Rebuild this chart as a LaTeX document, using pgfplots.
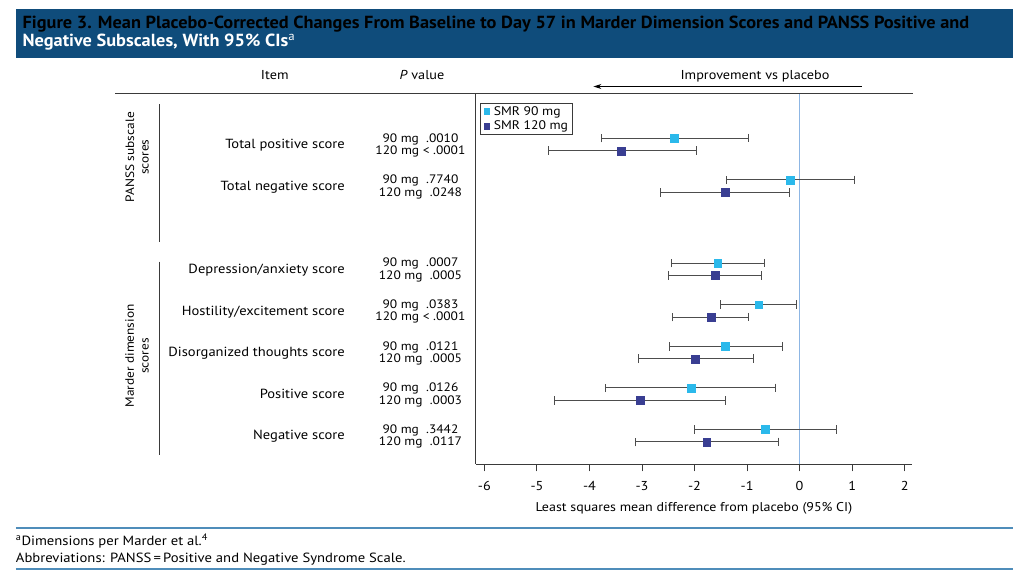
\documentclass[border=0pt]{standalone}
\usepackage{pgfplots}
\usepackage{pgfplotstable}
\pgfplotsset{compat=1.18}
\usetikzlibrary{arrows.meta}
\usepackage{graphicx}
\usepackage{fontspec}
\setmainfont{PT Sans}[FakeStretch=1.1]

\definecolor{titlebg}{HTML}{0F4C7B}
\definecolor{rulec}{HTML}{4F8DBA}
\definecolor{cyanm}{HTML}{2BB9EB}
\definecolor{navym}{HTML}{393E92}
\definecolor{errc}{HTML}{4D4D4D}
\definecolor{zeroc}{HTML}{8DB6E4}
\definecolor{linec}{HTML}{3A3A3A}

\newcommand\fs[1]{\fontsize{#1bp}{#1bp}\selectfont}

% rows: 0 total positive, 1 total negative, 3..7 Marder dimensions
\pgfplotstableread{
x y em ep
-2.38 0 1.40 1.41
-0.18 1 1.22 1.22
-1.56 3 0.88 0.90
-0.78 4 0.73 0.73
-1.41 5 1.06 1.09
-2.07 6 1.62 1.62
-0.65 7 1.36 1.35
}\nine
\pgfplotstableread{
x y em ep
-3.39 0.3 1.39 1.42
-1.41 1.3 1.23 1.22
-1.61 3.3 0.89 0.89
-1.69 4.3 0.73 0.72
-1.98 5.3 1.09 1.10
-3.03 6.3 1.63 1.62
-1.77 7.3 1.36 1.37
}\twelve

\newsavebox\tbox

\begin{document}
\sbox\tbox{\fs{17.6}\bfseries Figure 3. Mean Placebo-Corrected Changes From Baseline to Day 57 in Marder Dimension Scores and PANSS Positive and}
\pgfmathsetmacro\tsx{952*1.00375/\the\wd\tbox}
\begin{tikzpicture}
\begin{scope}[x=1bp,y=-1bp]
\path[use as bounding box, fill=white] (0,0) rectangle (1024,583);
\end{scope}

\begin{axis}[
  at={(472.7bp,-467bp)}, anchor=south west,
  scale only axis, width=439bp, height=373bp,
  xmin=-6.163, xmax=2.146, ymin=-1.075, ymax=7.8375, y dir=reverse,
  axis x line*=bottom, axis y line*=left,
  axis line style={linec, line width=1bp},
  xtick={-6,-5,-4,-3,-2,-1,0,1,2},
  xticklabels={-6,-5,-4,-3,-2,-1,0,1,2},
  ytick=\empty,
  tick align=outside, major tick length=7bp,
  tick style={linec, line width=1bp},
  xticklabel style={font=\fs{13}, text=black, yshift=-6.5bp},
  clip=false,
  legend style={at={(axis description cs:0.009,0.975)}, anchor=north west,
    draw=linec, line width=0.8bp, font=\fs{12.5}, inner xsep=3.5bp, inner ysep=2bp,
    column sep=3bp, row sep=1.5bp, nodes={inner sep=1.2bp}, cells={anchor=west}},
  legend image code/.code={\draw[#1,mark size=3bp] plot coordinates {(3bp,0bp)};},
]
\addplot[zeroc, line width=1bp, forget plot] coordinates {(0,-1.075) (0,7.8375)};

\addplot[only marks, mark=square*, mark size=4bp,
  mark options={fill=cyanm, draw=cyanm, line width=0.3bp},
  error bars/.cd, x dir=both, x explicit,
  error bar style={errc, line width=1bp},
  error mark options={errc, line width=1bp, mark size=4.3bp, rotate=90}]
  table[x=x, y=y, x error minus=em, x error plus=ep] {\nine};
\addlegendentry{SMR 90 mg}

\addplot[only marks, mark=square*, mark size=4bp,
  mark options={fill=navym, draw=navym, line width=0.3bp},
  error bars/.cd, x dir=both, x explicit,
  error bar style={errc, line width=1bp},
  error mark options={errc, line width=1bp, mark size=4.3bp, rotate=90}]
  table[x=x, y=y, x error minus=em, x error plus=ep] {\twelve};
\addlegendentry{SMR 120 mg\hspace{5bp}}
\end{axis}

\begin{scope}[x=1bp,y=-1bp]
% title band
\fill[titlebg] (10,9) rectangle (1013,58.3);
\node[anchor=base west, inner sep=0, text=white] at (16.7,29) {\scalebox{\tsx}[1]{\fs{17.6}\bfseries\vtop{\baselineskip=18.2bp
  \hbox{\usebox\tbox}\hbox{Negative Subscales, With 95\% CIs\textsuperscript{\mdseries a}}}}};

% column headers
\node[anchor=base, inner sep=0, font=\fs{13}] at (270.5,80) {Item};
\node[anchor=base, inner sep=0, font=\fs{13}] at (418.5,80) {\textit{P} value};
\node[anchor=base, inner sep=0, font=\fs{13}] at (753.5,80) {Improvement vs placebo};
\draw[-{Stealth[length=8bp,width=5bp]}, line width=1bp] (861,87) -- (591,87);
\draw[linec, line width=1.2bp] (110,94) -- (912,94);

% group brackets
\draw[linec, line width=1bp] (155,105) -- (155,243);
\draw[linec, line width=1bp] (155,263) -- (155,458);
\node[rotate=90, align=center, font=\fs{12.2}, inner sep=0] at (132,158) {PANSS subscale\\[2.5bp]scores};
\node[rotate=90, align=center, font=\fs{12.2}, inner sep=0] at (132,358) {Marder dimension\\[2.5bp]scores};

% item labels
\foreach \k/\lab in {0/Total positive score, 1/Total negative score, 3/Depression\slash anxiety score,
  4/Hostility\slash excitement score, 5/Disorganized thoughts score, 6/Positive score, 7/Negative score}
  \node[anchor=base east, inner sep=0, font=\fs{13.3}] at (341,139+41.85*\k+10.5) {\lab};

% P values
\foreach \k/\pa/\pb in {0/.0010/< .0001, 1/.7740/\ .0248, 3/.0007/\ .0005, 4/.0383/< .0001,
  5/.0121/\ .0005, 6/.0126/\ .0003, 7/.3442/\ .0117} {
  \node[anchor=base, inner sep=0, font=\fs{12.3}] at (417,139+41.85*\k+3.9) {90 mg\ \ \pa};
  \node[anchor=base, inner sep=0, font=\fs{12.3}] at (417,139+41.85*\k+16.3) {120 mg \pb};
}

% x label
\node[anchor=base, inner sep=0, font=\fs{12.8}] at (692,514) {Least squares mean difference from placebo (95\% CI)};

% footnotes
\draw[rulec, line width=2bp] (10,531) -- (1013,531);
\draw[rulec, line width=2bp] (10,572) -- (1013,572);
\node[anchor=base west, inner sep=0, font=\fs{13.4}] at (10,548.3) {\textsuperscript{a}Dimensions per Marder et al.\textsuperscript{4}};
\node[anchor=base west, inner sep=0, font=\fs{13.4}] at (10,565.7) {Abbreviations: PANSS\,=\,Positive and Negative Syndrome Scale.};
\end{scope}
\end{tikzpicture}
\end{document}
